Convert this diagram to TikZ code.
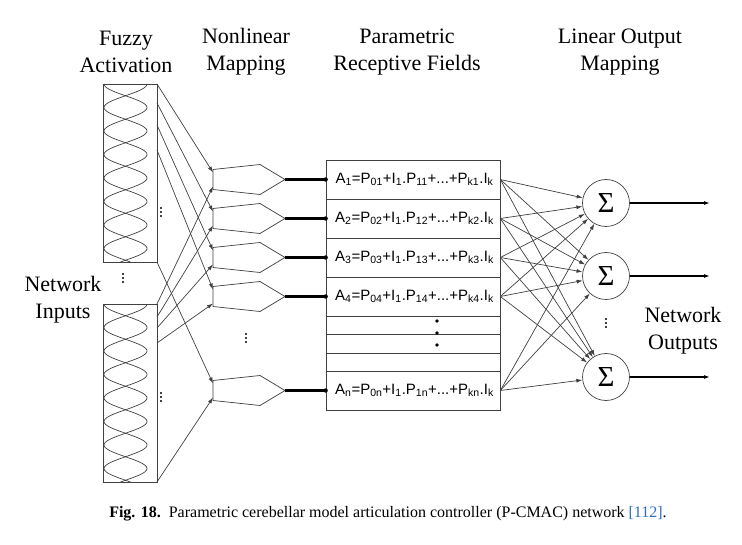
\documentclass[tikz,border=0pt]{standalone}
\usepackage{fontspec}
\setmainfont{Liberation Serif}
\newfontfamily\formfont{Liberation Sans}
\usetikzlibrary{arrows.meta}
\definecolor{refblue}{RGB}{45,110,195}

\begin{document}
\begin{tikzpicture}[x=1pt,y=-1pt,
    line/.style={draw=black!75,line width=0.7pt},
    arr/.style={line,-{Latex[length=6pt,width=4pt]}},
    head/.style={align=center,inner sep=0pt,font=\fontsize{22}{27}\selectfont},
    fuzzybox/.style={line,minimum width=54pt,inner sep=0pt},
    field/.style={line,minimum width=174pt,minimum height=39pt,inner sep=0pt,
      font=\formfont\fontsize{15}{17}\selectfont},
    sum/.style={circle,line,minimum size=47pt,inner sep=0pt,font=\fontsize{29}{29}\selectfont}]

    \useasboundingbox (0,0) rectangle (742,545);

    % Column headings
    \node[head] (hfuzzy) at (126,52) {Fuzzy\\Activation};
    \node[head] (hnonlin) at (246,52) {Nonlinear\\Mapping};
    \node[head] (hfield) at (407,52) {Parametric\\Receptive Fields};
    \node[head] (hlinear) at (620,52) {Linear Output\\Mapping};

    % Fuzzy activation boxes with the membership curves
    \node[fuzzybox,minimum height=178pt] (fa) at (130,173) {};
    \node[fuzzybox,minimum height=178pt] (fb) at (130,393) {};
    \foreach \t/\h in {84/178,304/178} {
      \draw[line] plot[domain=0:\h,samples=140,smooth] ({125.5+21.5*cos(\x/23.5*180)},{\t+\x});
      \draw[line] plot[domain=0:\h,samples=140,smooth] ({125.5-21.5*cos(\x/23.5*180)},{\t+\x});
    }
    % vertical dots
    \foreach \x/\y in {161/212,161/397,123/278,246/338,606/323}
      \foreach \d in {-4,0,4}
        \fill (\x,\y+\d) circle (1.1pt);
    \node[head,align=center] (inputs) at (63,300) {Network\\Inputs};

    % Start points on the fuzzy boxes
    \foreach \i/\y in {1/84,2/103,3/125,4/150,5/262}
      \coordinate (fa\i) at (157,\y);
    \foreach \i/\y in {1/304,2/317,3/328,4/343,5/482}
      \coordinate (fb\i) at (157,\y);

    % Nonlinear mapping cells
    \foreach \i/\c in {1/179.5,2/218.5,3/257.5,4/296.5,5/390.5} {
      \draw[line] (213,\c-10) -- (260,\c-15) -- (285,\c) -- (260,\c+15) -- (213,\c+10) -- cycle;
      \coordinate (h\i) at (285,\c);
      \coordinate (h\i up) at (213,\c-7);
      \coordinate (h\i lo) at (213,\c+7);
    }
    \foreach \i in {1,...,5} {
      \draw[arr] (fa\i) -- (h\i up);
      \draw[arr] (fb\i) -- (h\i lo);
    }

    % Parametric receptive fields
    \node[field] (r1) at (413,179.5) {\hspace{3pt}A\textsubscript{1}=P\textsubscript{01}+I\textsubscript{1}.P\textsubscript{11}+...+P\textsubscript{k1}.I\textsubscript{k}};
    \node[field] (r2) at (413,218.5) {\hspace{3pt}A\textsubscript{2}=P\textsubscript{02}+I\textsubscript{1}.P\textsubscript{12}+...+P\textsubscript{k2}.I\textsubscript{k}};
    \node[field] (r3) at (413,257.5) {\hspace{3pt}A\textsubscript{3}=P\textsubscript{03}+I\textsubscript{1}.P\textsubscript{13}+...+P\textsubscript{k3}.I\textsubscript{k}};
    \node[field] (r4) at (413,296.5) {\hspace{3pt}A\textsubscript{4}=P\textsubscript{04}+I\textsubscript{1}.P\textsubscript{14}+...+P\textsubscript{k4}.I\textsubscript{k}};
    \node[field] (rn) at (413,390.5) {\hspace{3pt}A\textsubscript{n}=P\textsubscript{0n}+I\textsubscript{1}.P\textsubscript{1n}+...+P\textsubscript{kn}.I\textsubscript{k}};
    \draw[line] (326,316) rectangle (500,371);
    \draw[line] (326,334) -- (500,334);
    \draw[line] (326,353) -- (500,353);
    \foreach \y in {321,333,345}
      \fill (437,\y) circle (1.8pt);
    \foreach \i/\r in {1/1,2/2,3/3,4/4,5/n} {
      \draw[line width=2.2pt] (h\i) -- (r\r.west);
      \fill (r\r.west) circle (2.2pt);
    }

    % Linear output mapping
    \node[sum] (s1) at (606,203) {Σ};
    \node[sum] (s2) at (606,276) {Σ};
    \node[sum] (s3) at (606,377) {Σ};
    \foreach \r in {1,2,3,4,n}
      \foreach \s in {1,2,3}
        \draw[arr] (r\r.east) -- (s\s);
    \foreach \s in {1,2,3} {
      \coordinate (o\s) at (710,0 |- s\s);
      \draw[arr,line width=1.2pt,draw=black] (s\s) -- (o\s);
    }
    \node[head] (outputs) at (683,331) {Network\\Outputs};

    % Caption
    \node (cap) at (388,514) {\fontsize{16}{18}\selectfont\textbf{Fig. 18.}\enspace Parametric cerebellar model articulation controller (P-CMAC) network \textcolor{refblue}{[112]}.};
\end{tikzpicture}
\end{document}
